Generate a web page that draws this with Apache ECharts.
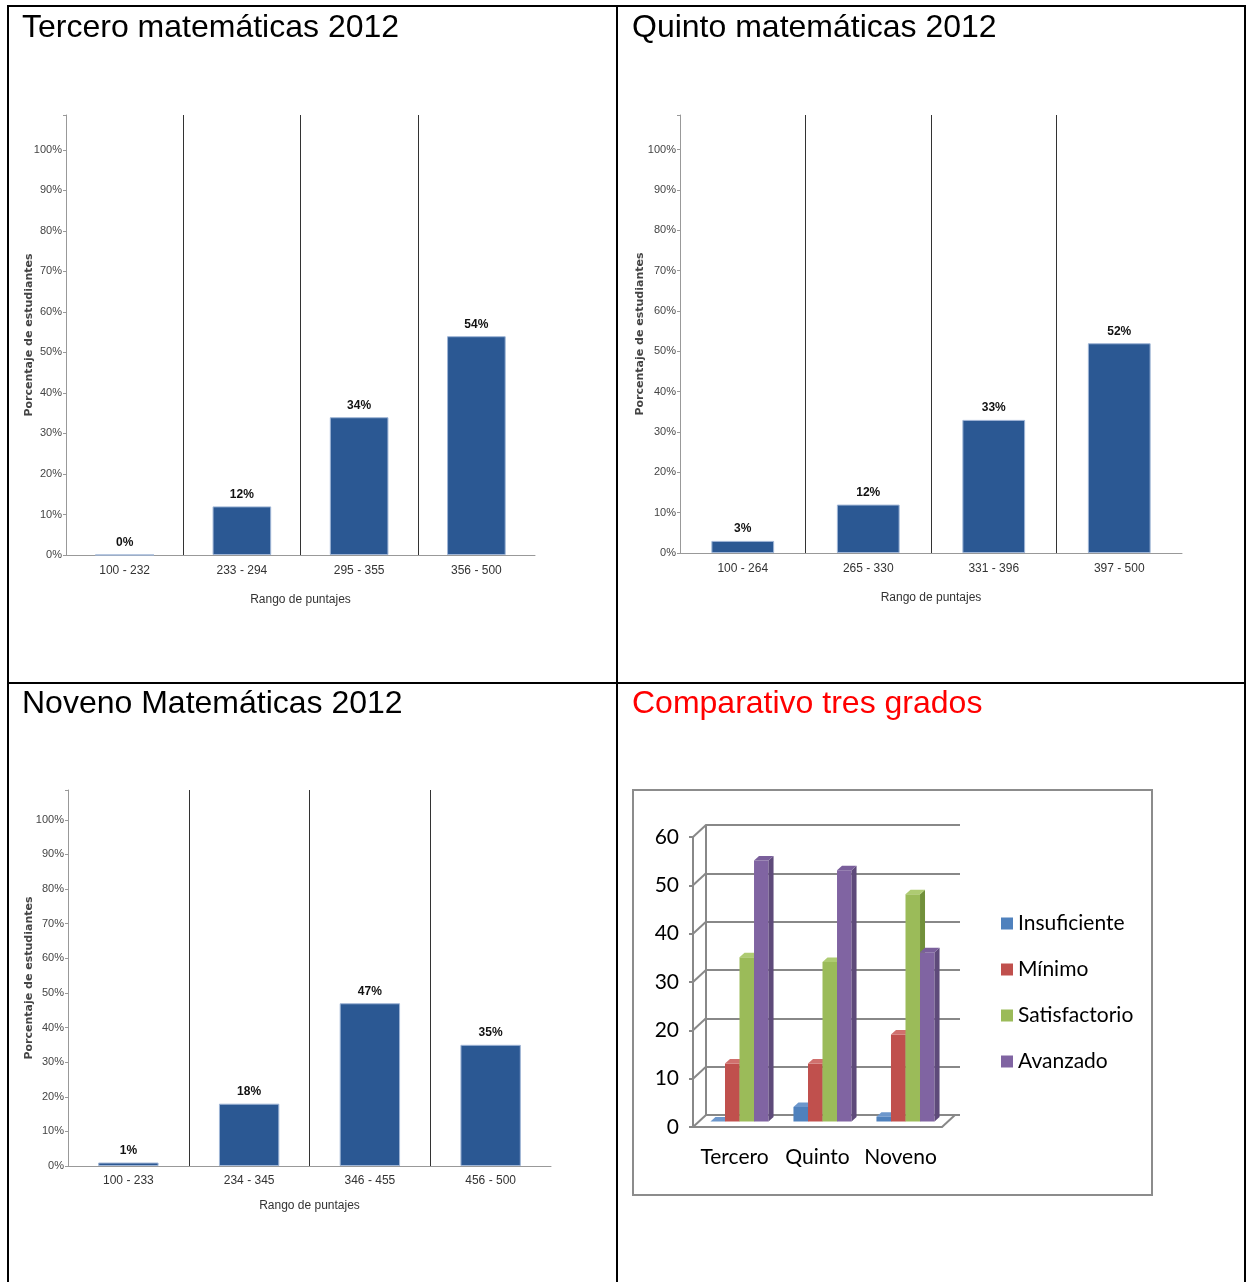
<!DOCTYPE html>
<html>
<head>
<meta charset="utf-8">
<script src="https://cdn.jsdelivr.net/npm/echarts@6/dist/echarts.min.js"></script>
<style>
  body { margin: 0; background: #fff; }
  #main { width: 1253px; height: 1282px; }
</style>
</head>
<body>
<div id="main"></div>
<script>
// datos
var terceroCats = ["100 - 232", "233 - 294", "295 - 355", "356 - 500"];
var terceroVals = [0, 12, 34, 54];
var quintoCats = ["100 - 264", "265 - 330", "331 - 396", "397 - 500"];
var quintoVals = [3, 12, 33, 52];
var novenoCats = ["100 - 233", "234 - 345", "346 - 455", "456 - 500"];
var novenoVals = [1, 18, 47, 35];

var grados = ["Tercero", "Quinto", "Noveno"];
var insuficiente = [0, 3, 1];
var minimo = [12, 12, 18];
var satisfactorio = [34, 33, 47];
var avanzado = [54, 52, 35];
var depthTicks = [0, 10, 20, 30, 40, 50, 60];

var narrow = '"Liberation Sans Narrow", "Liberation Sans", sans-serif';
var titleStyle = { fontFamily: "Liberation Sans", fontSize: 32, fontWeight: "normal", color: "#000" };

function pctYAxis(gridIndex, gap) {
  return {
    type: "value",
    gridIndex: gridIndex,
    min: 0,
    max: 108.6,
    interval: 10,
    name: "Porcentaje de estudiantes",
    nameLocation: "middle",
    nameGap: gap,
    nameMoveOverlap: false,
    nameTextStyle: { fontFamily: "DejaVu Sans", fontSize: 11, fontWeight: "bold", color: "#444" },
    axisLine: { show: true, lineStyle: { color: "#999" } },
    axisTick: { show: true, length: 3, lineStyle: { color: "#999" } },
    axisLabel: {
      fontFamily: narrow, fontSize: 11, color: "#444", margin: 4,
      formatter: function (v) { return v > 100 ? "" : v + "%"; }
    },
    splitLine: { show: false }
  };
}

function rangeXAxis(gridIndex, cats, gap, margin) {
  return {
    type: "category",
    gridIndex: gridIndex,
    data: cats,
    name: "Rango de puntajes",
    nameLocation: "middle",
    nameGap: gap,
    nameTextStyle: { fontFamily: narrow, fontSize: 12, color: "#333" },
    axisLine: { lineStyle: { color: "#999" } },
    axisTick: { alignWithLabel: true, length: 3, lineStyle: { color: "#999" } },
    axisLabel: { fontFamily: narrow, fontSize: 12, color: "#333", margin: margin, interval: 0 },
    splitLine: { show: true, showMinLine: false, showMaxLine: false, lineStyle: { color: "#333", width: 1 } }
  };
}

function pctBars(idx, vals) {
  return {
    type: "bar",
    xAxisIndex: idx,
    yAxisIndex: idx,
    data: vals,
    barWidth: "50%",
    itemStyle: { color: "#2b5893", borderColor: "#9fb5d6", borderWidth: 1 },
    label: { show: true, position: "top", distance: 6, formatter: "{c}%", fontFamily: narrow, fontSize: 12, fontWeight: "bold", color: "#111" }
  };
}

// columnas 3D del comparativo
function bars3D(name, vals, k, front, side, top) {
  return {
    type: "custom",
    name: name,
    xAxisIndex: 3,
    yAxisIndex: 3,
    itemStyle: { color: front },
    data: vals.map(function (v, i) { return [i, v]; }),
    renderItem: function (params, api) {
      var t = api.coord([api.value(0), api.value(1)]);
      var b = api.coord([api.value(0), 0]);
      var bw = api.size([1, 0])[0];
      var w = bw * 0.175;
      var x0 = t[0] - bw * 0.35 + k * w + 5;
      var yt = t[1] - 5.5, yb = b[1] - 5.5;
      var dx = 5, dy = -4.5;
      return {
        type: "group",
        children: [
          { type: "rect", shape: { x: x0, y: yt, width: w, height: yb - yt }, style: { fill: front } },
          { type: "polygon", shape: { points: [[x0 + w, yt], [x0 + w + dx, yt + dy], [x0 + w + dx, yb + dy], [x0 + w, yb]] }, style: { fill: side } },
          { type: "polygon", shape: { points: [[x0, yt], [x0 + dx, yt + dy], [x0 + w + dx, yt + dy], [x0 + w, yt]] }, style: { fill: top } }
        ]
      };
    }
  };
}

var myChart = echarts.init(document.getElementById("main"));

var option = {
  animation: false,
  title: [
    { text: "Tercero matemáticas 2012", left: 22, top: 12, padding: 0, textStyle: titleStyle },
    { text: "Quinto matemáticas 2012", left: 632, top: 12, padding: 0, textStyle: titleStyle },
    { text: "Noveno Matemáticas 2012", left: 22, top: 688, padding: 0, textStyle: titleStyle },
    { text: "Comparativo tres grados", left: 632, top: 688, padding: 0, textStyle: Object.assign({}, titleStyle, { color: "#ff0000" }) }
  ],
  legend: {
    data: ["Insuficiente", "Mínimo", "Satisfactorio", "Avanzado"],
    orient: "vertical",
    left: 1001,
    top: 913,
    padding: 0,
    icon: "rect",
    itemWidth: 12,
    itemHeight: 12,
    itemGap: 25,
    textStyle: { fontFamily: "Lato", fontSize: 21, color: "#000" }
  },
  grid: [
    { left: 66, top: 115, width: 469, height: 440 },
    { left: 680, top: 115, width: 502, height: 438 },
    { left: 68, top: 790, width: 483, height: 376 },
    { left: 693, top: 837, width: 249, height: 290 },
    { left: 706, top: 825, width: 254, height: 290 }
  ],
  xAxis: [
    rangeXAxis(0, terceroCats, 39, 10),
    rangeXAxis(1, quintoCats, 39, 10),
    rangeXAxis(2, novenoCats, 34, 9),
    {
      type: "category", gridIndex: 3, data: grados,
      axisLine: { lineStyle: { color: "#888", width: 2 } },
      axisTick: { length: 6, lineStyle: { color: "#888", width: 2 } },
      axisLabel: { fontFamily: "Lato", fontSize: 21, color: "#000", margin: 20, interval: 0 }
    },
    { type: "category", gridIndex: 4, data: grados, show: false }
  ],
  yAxis: [
    pctYAxis(0, 31),
    pctYAxis(1, 34),
    pctYAxis(2, 33),
    {
      type: "value", gridIndex: 3, min: 0, max: 60, interval: 10,
      axisLine: { show: true, lineStyle: { color: "#888", width: 2 } },
      axisTick: { show: true, length: 4, lineStyle: { color: "#888", width: 2 } },
      axisLabel: { fontFamily: "Lato", fontSize: 21, color: "#000", margin: 14 },
      splitLine: { show: false }
    },
    {
      type: "value", gridIndex: 4, min: 0, max: 60, interval: 10,
      axisLine: { show: true, lineStyle: { color: "#888", width: 2 } },
      axisTick: { show: false },
      axisLabel: { show: false },
      splitLine: { show: true, lineStyle: { color: "#888", width: 2 } }
    }
  ],
  series: [
    pctBars(0, terceroVals),
    pctBars(1, quintoVals),
    pctBars(2, novenoVals),
    {
      // diagonales de profundidad y borde del piso
      type: "custom",
      xAxisIndex: 3,
      yAxisIndex: 3,
      data: depthTicks.map(function (v) { return [0, v]; }),
      renderItem: function (params, api) {
        var p = api.coord([0, api.value(1)]);
        var cs = params.coordSys;
        var kids = [{ type: "line", shape: { x1: cs.x, y1: p[1], x2: cs.x + 13, y2: p[1] - 12 }, style: { stroke: "#888", lineWidth: 2 } }];
        if (api.value(1) === 0) {
          kids.push({ type: "line", shape: { x1: cs.x + cs.width, y1: p[1], x2: cs.x + cs.width + 13, y2: p[1] - 12 }, style: { stroke: "#888", lineWidth: 2 } });
        }
        return { type: "group", children: kids };
      }
    },
    bars3D("Insuficiente", insuficiente, 0, "#4f81bd", "#3a6396", "#6d97cc"),
    bars3D("Mínimo", minimo, 1, "#c0504d", "#953b39", "#d0706d"),
    bars3D("Satisfactorio", satisfactorio, 2, "#9bbb59", "#71903a", "#aecb72"),
    bars3D("Avanzado", avanzado, 3, "#8064a2", "#5e4a7a", "#7a5f9b")
  ],
  graphic: [
    { type: "line", shape: { x1: 7, y1: 6, x2: 1246, y2: 6 }, style: { stroke: "#000", lineWidth: 2 } },
    { type: "line", shape: { x1: 8, y1: 5, x2: 8, y2: 1282 }, style: { stroke: "#000", lineWidth: 2 } },
    { type: "line", shape: { x1: 617, y1: 5, x2: 617, y2: 1282 }, style: { stroke: "#000", lineWidth: 2 } },
    { type: "line", shape: { x1: 1245, y1: 5, x2: 1245, y2: 1282 }, style: { stroke: "#000", lineWidth: 2 } },
    { type: "line", shape: { x1: 7, y1: 683, x2: 1246, y2: 683 }, style: { stroke: "#000", lineWidth: 2 } },
    { type: "rect", shape: { x: 633, y: 790, width: 519, height: 405 }, style: { fill: "none", stroke: "#8c8c8c", lineWidth: 2 } }
  ]
};

myChart.setOption(option);
</script>
</body>
</html>
